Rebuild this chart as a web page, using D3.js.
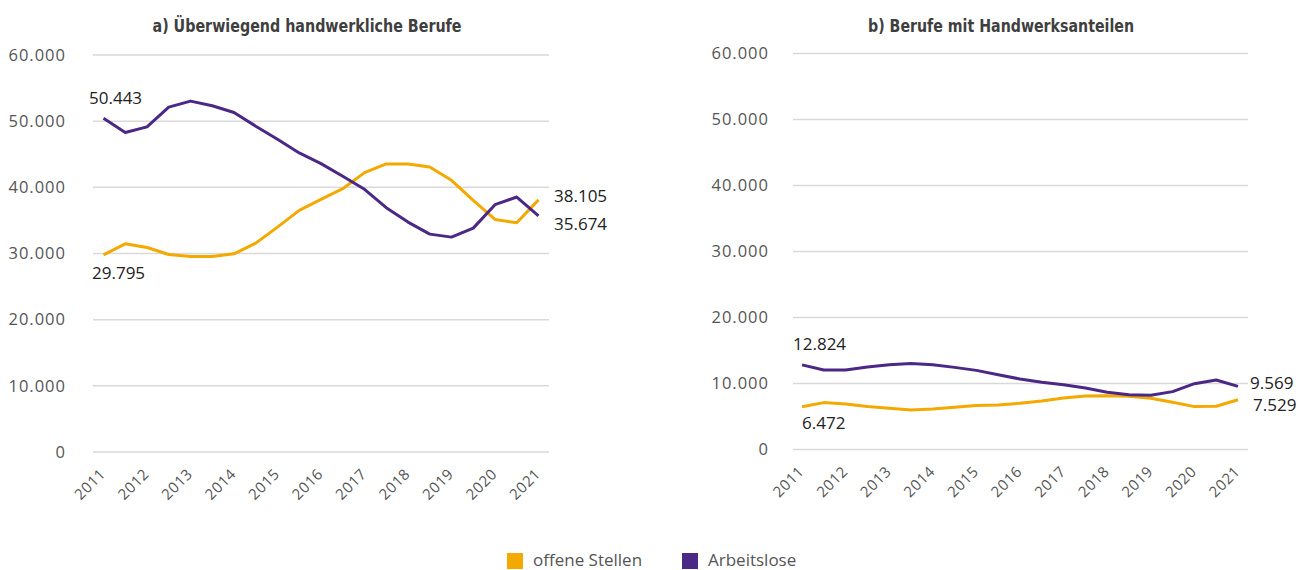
<!DOCTYPE html>
<html>
<head>
<meta charset="utf-8">
<script src="https://cdn.jsdelivr.net/npm/d3@7"></script>
<style>
  body { margin: 0; background: #fff; }
  svg { display: block; }
</style>
</head>
<body>
<div id="chart"></div>
<script>
// Half-year periods 2011 .. 2021
const periods = [2011, 2011.5, 2012, 2012.5, 2013, 2013.5, 2014, 2014.5, 2015, 2015.5,
  2016, 2016.5, 2017, 2017.5, 2018, 2018.5, 2019, 2019.5, 2020, 2020.5, 2021];
const years = [2011, 2012, 2013, 2014, 2015, 2016, 2017, 2018, 2019, 2020, 2021];
const yTicks = [0, 10000, 20000, 30000, 40000, 50000, 60000];

// a) Überwiegend handwerkliche Berufe
const aStellen = [29795, 31465, 30909, 29848, 29545, 29545, 29949, 31566, 33990, 36515,
  38182, 39798, 42222, 43535, 43535, 43081, 41061, 38030, 35152, 34646, 38105];
const aArbeitslose = [50443, 48283, 49141, 52121, 53030, 52323, 51313, 49242, 47273, 45202,
  43586, 41667, 39697, 36919, 34747, 32929, 32475, 33838, 37374, 38535, 35674];

// b) Berufe mit Handwerksanteilen
const bStellen = [6472, 7103, 6902, 6499, 6247, 5995, 6146, 6398, 6650, 6751,
  7003, 7355, 7809, 8111, 8161, 8060, 7758, 7154, 6499, 6549, 7529];
const bArbeitslose = [12824, 12040, 12040, 12494, 12846, 13048, 12846, 12443, 11990, 11335,
  10680, 10176, 9824, 9320, 8665, 8312, 8212, 8766, 9975, 10529, 9569];

const colStellen = "#f4a900";
const colArbeitslose = "#4b2886";

const width = 1307;
const height = 570;

const svg = d3.select("#chart")
  .append("svg")
    .attr("width", width)
    .attr("height", height);

const fmt = d3.formatLocale({ decimal: ",", thousands: ".", grouping: [3], currency: ["", "€"] }).format(",d");

const panels = [
  {
    title: "a) Überwiegend handwerkliche Berufe", titleX: 307, titleW: 309,
    xRange: [103.5, 538.5], gridX: [93, 549], yRange: [452, 55], labelX: 66,
    stellen: aStellen, arbeitslose: aArbeitslose,
    // start/end label placement
    labels: [
      { v: aArbeitslose[0], x: 89, y: 104 },
      { v: aStellen[0], x: 92, y: 279 },
      { v: aStellen[20], x: 554, y: 202 },
      { v: aArbeitslose[20], x: 554, y: 230 }
    ]
  },
  {
    title: "b) Berufe mit Handwerksanteilen", titleX: 1001, titleW: 266,
    xRange: [802, 1238], gridX: [793, 1248], yRange: [449.5, 53.5], labelX: 769,
    stellen: bStellen, arbeitslose: bArbeitslose,
    labels: [
      { v: bArbeitslose[0], x: 793, y: 350 },
      { v: bStellen[0], x: 802, y: 429 },
      { v: bArbeitslose[20], x: 1250, y: 389 },
      { v: bStellen[20], x: 1253, y: 411 }
    ]
  }
];

panels.forEach(p => {
  const x = d3.scaleLinear().domain([2011, 2021]).range(p.xRange);
  const y = d3.scaleLinear().domain([0, 60000]).range(p.yRange);
  const g = svg.append("g");

  // Title
  g.append("text")
    .attr("x", p.titleX)
    .attr("y", 32)
    .attr("text-anchor", "middle")
    .attr("textLength", p.titleW)
    .attr("lengthAdjust", "spacingAndGlyphs")
    .style("font-family", "'Liberation Sans Narrow', 'DejaVu Sans Condensed', sans-serif")
    .style("font-weight", "bold")
    .style("font-size", "18px")
    .style("fill", "#3f3f3f")
    .text(p.title);

  // Gridlines
  g.selectAll(".grid")
    .data(yTicks)
    .enter()
    .append("line")
      .attr("x1", p.gridX[0])
      .attr("x2", p.gridX[1])
      .attr("y1", d => y(d))
      .attr("y2", d => y(d))
      .attr("stroke", "#d9d9d9")
      .attr("stroke-width", 1.5);

  // Y tick labels
  g.selectAll(".ylab")
    .data(yTicks)
    .enter()
    .append("text")
      .attr("x", p.labelX)
      .attr("y", d => y(d))
      .attr("dy", "0.35em")
      .attr("text-anchor", "end")
      .style("font-family", "'Open Sans', sans-serif")
      .style("font-size", "16.5px")
      .style("letter-spacing", "1px")
      .style("fill", "#555")
      .text(d => fmt(d));

  // X tick labels, rotated
  g.selectAll(".xlab")
    .data(years)
    .enter()
    .append("text")
      .attr("transform", d => `translate(${x(d) + 3}, ${y(0) + 23}) rotate(-45)`)
      .attr("text-anchor", "end")
      .style("font-family", "'Open Sans', sans-serif")
      .style("font-size", "15px")
      .style("letter-spacing", "0.5px")
      .style("fill", "#555")
      .text(d => d);

  const line = d3.line()
    .x((d, i) => x(periods[i]))
    .y(d => y(d));

  g.append("path")
    .datum(p.stellen)
    .attr("d", line)
    .attr("fill", "none")
    .attr("stroke", colStellen)
    .attr("stroke-width", 3)
    .attr("stroke-linejoin", "round");

  g.append("path")
    .datum(p.arbeitslose)
    .attr("d", line)
    .attr("fill", "none")
    .attr("stroke", colArbeitslose)
    .attr("stroke-width", 3)
    .attr("stroke-linejoin", "round");

  // Value labels
  g.selectAll(".vlab")
    .data(p.labels)
    .enter()
    .append("text")
      .attr("x", d => d.x)
      .attr("y", d => d.y)
      .style("font-family", "'Open Sans', sans-serif")
      .style("font-size", "17px")
      .style("fill", "#222")
      .text(d => fmt(d.v));
});

// Legend
const legendItems = [
  { name: "offene Stellen", color: colStellen, x: 507 },
  { name: "Arbeitslose", color: colArbeitslose, x: 682 }
];
const legend = svg.append("g");
legendItems.forEach(item => {
  legend.append("rect")
    .attr("x", item.x)
    .attr("y", 553)
    .attr("width", 16)
    .attr("height", 16)
    .attr("fill", item.color);
  legend.append("text")
    .attr("x", item.x + 26)
    .attr("y", 566)
    .style("font-family", "'Open Sans', sans-serif")
    .style("font-size", "17px")
    .style("fill", "#555")
    .text(item.name);
});
</script>
</body>
</html>
